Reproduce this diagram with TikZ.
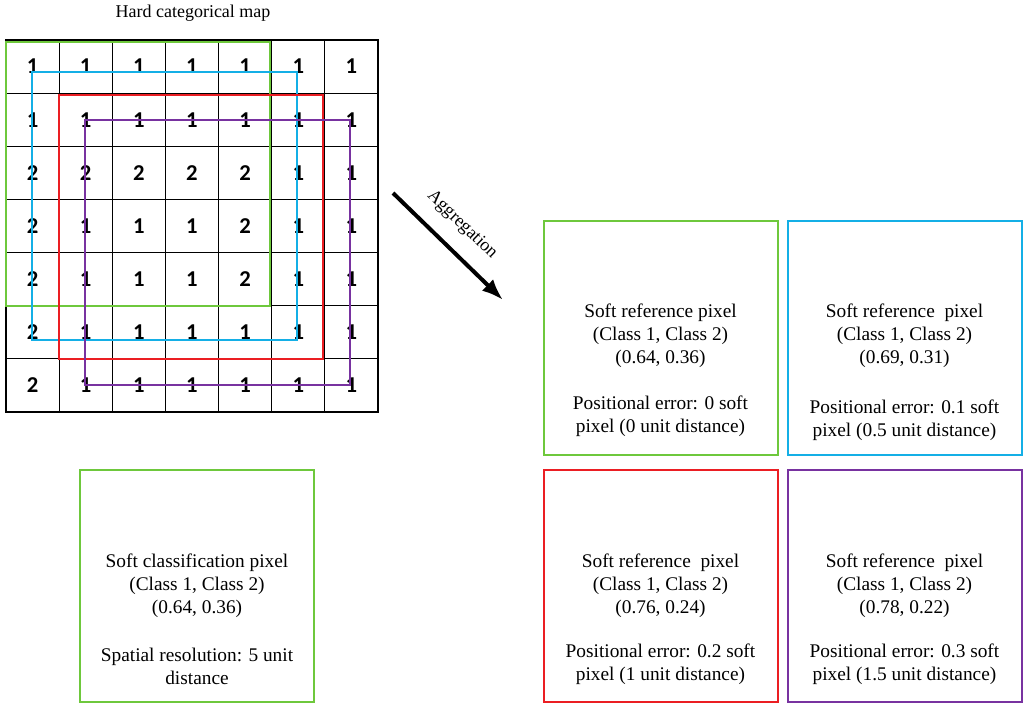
\documentclass[tikz,border=0pt]{standalone}
\usepackage{fontspec}
\usetikzlibrary{arrows.meta}
\setmainfont{Liberation Serif}
\newfontfamily\numfont{Carlito}
\begin{document}
\begin{tikzpicture}[x=0.75pt,y=-0.75pt,
  cell/.style={draw=black,line width=0.8pt,minimum size=39.9pt,inner sep=0pt,font=\numfont\bfseries\fontsize{17}{19}\selectfont},
  win/.style={line width=1.2pt},
  box/.style={draw,line width=1.5pt,inner sep=0pt},
  txt/.style={align=center,font=\fontsize{14.5}{17.3}\selectfont}]
\useasboundingbox (0,0) rectangle (1024,707);
\definecolor{cg}{RGB}{110,200,60}
\definecolor{cb}{RGB}{20,175,230}
\definecolor{cr}{RGB}{235,30,35}
\definecolor{cp}{RGB}{120,50,160}
\node[font=\fontsize{13.5}{15}\selectfont] (title) at (193,13) {Hard categorical map};
\foreach \r/\row in {1/{1,1,1,1,1,1,1},2/{1,1,1,1,1,1,1},3/{2,2,2,2,2,1,1},4/{2,1,1,1,2,1,1},5/{2,1,1,1,2,1,1},6/{2,1,1,1,1,1,1},7/{2,1,1,1,1,1,1}}{
  \foreach \v [count=\c] in \row {
    \node[cell] (g\r\c) at ({6+53.14*(\c-0.5)},{40+53.14*(\r-0.5)}) {\v};
  }
}
\draw[win,cg] (6,42) rectangle (270,306);
\draw[win,cb] (32,72) rectangle (297,340);
\draw[win,cr] (59,95) rectangle (323,359);
\draw[win,cp] (85,120) rectangle (350,385);
\coordinate (a1) at (393,193);
\coordinate (a2) at (503,300);
\draw[line width=3pt,-{Latex[length=16pt,width=12pt]}] (a1) -- (a2);
\node[rotate=-44,font=\fontsize{13.5}{15}\selectfont] (agg) at (462,225) {Aggregation};
\node[box,cg,minimum width=175.5pt,minimum height=175.5pt] (b1) at (660.5,338) {};
\node[box,cb,minimum width=175.5pt,minimum height=175.5pt] (b2) at (904.5,338) {};
\node[box,cr,minimum width=175.5pt,minimum height=174pt] (b3) at (660.5,586) {};
\node[box,cp,minimum width=175.5pt,minimum height=174pt] (b4) at (904.5,586) {};
\node[box,cg,minimum width=175.5pt,minimum height=174pt] (b0) at (197,586) {};
\node[txt] at (660.5,336) {Soft reference pixel\\(Class 1, Class 2)\\(0.64, 0.36)};
\node[txt] at (660.5,416) {Positional error: 0 soft\\pixel (0 unit distance)};
\node[txt] at (904.5,336) {Soft reference\ \ pixel\\(Class 1, Class 2)\\(0.69, 0.31)};
\node[txt] at (904.5,420) {Positional error: 0.1 soft\\pixel (0.5 unit distance)};
\node[txt] at (660.5,586) {Soft reference\ \ pixel\\(Class 1, Class 2)\\(0.76, 0.24)};
\node[txt] at (660.5,664) {Positional error: 0.2 soft\\pixel (1 unit distance)};
\node[txt] at (904.5,586) {Soft reference\ \ pixel\\(Class 1, Class 2)\\(0.78, 0.22)};
\node[txt] at (904.5,664) {Positional error: 0.3 soft\\pixel (1.5 unit distance)};
\node[txt] at (197,586) {Soft classification pixel\\(Class 1, Class 2)\\(0.64, 0.36)};
\node[txt] at (197,666) {Spatial resolution: 5 unit\\distance};
\end{tikzpicture}
\end{document}
